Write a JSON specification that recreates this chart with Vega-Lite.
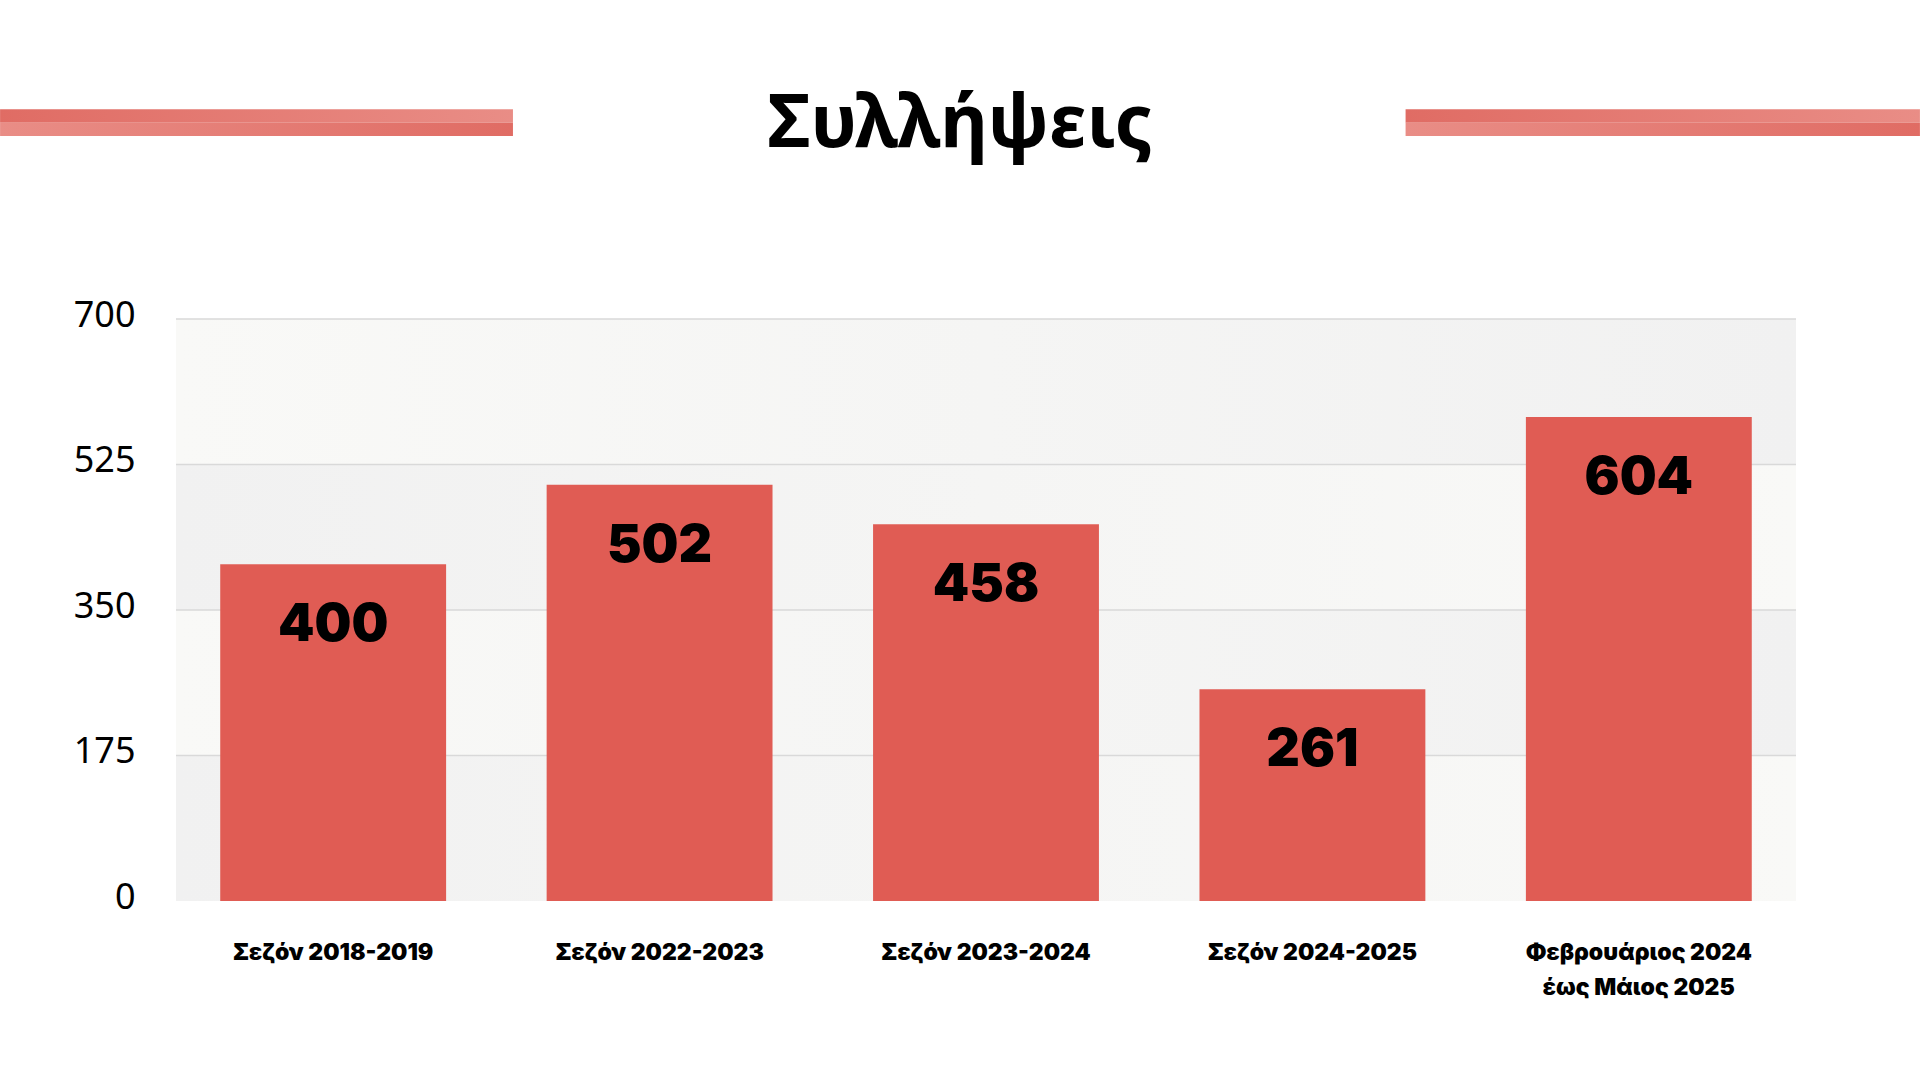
{
  "$schema": "https://vega.github.io/schema/vega-lite/v6.json",
  "width": 1620,
  "height": 582,
  "autosize": {"type": "none"},
  "padding": {"left": 176, "top": 319, "right": 124, "bottom": 179},
  "background": "#ffffff",
  "config": {
    "view": {"stroke": null},
    "axis": {"title": null}
  },
  "datasets": {
    "arrests": [
      {"period": "Σεζόν 2018-2019", "axis_value": 405, "label": 400},
      {"period": "Σεζόν 2022-2023", "axis_value": 500.7, "label": 502},
      {"period": "Σεζόν 2023-2024", "axis_value": 453, "label": 458},
      {"period": "Σεζόν 2024-2025", "axis_value": 254.6, "label": 261},
      {"period": "Φεβρουάριος 2024\nέως Μάιος 2025", "axis_value": 582, "label": 604}
    ],
    "bands": [
      {"from": 0, "to": 175, "shade": "b"},
      {"from": 175, "to": 350, "shade": "a"},
      {"from": 350, "to": 525, "shade": "b"},
      {"from": 525, "to": 700, "shade": "a"}
    ],
    "stripes": [
      {"side": "left", "row": "upper", "start": -0.1086, "end": 0.208, "low": 936.1, "high": 952.2},
      {"side": "left", "row": "lower", "start": -0.1086, "end": 0.208, "low": 920.1, "high": 936.1},
      {"side": "right", "row": "upper", "start": 0.759, "end": 1.0765, "low": 936.1, "high": 952.2},
      {"side": "right", "row": "lower", "start": 0.759, "end": 1.0765, "low": 920.1, "high": 936.1}
    ],
    "heading": [
      {"text": "Συλλήψεις", "pos": 0.484, "level": 907}
    ]
  },
  "resolve": {"scale": {"x": "independent"}},
  "layer": [
    {
      "data": {"name": "bands"},
      "transform": [{"filter": "datum.shade == 'a'"}],
      "mark": {
        "type": "rect",
        "color": {"gradient": "linear", "x1": 0, "y1": 0, "x2": 1, "y2": 0,
          "stops": [{"offset": 0, "color": "#f9f9f7"}, {"offset": 1, "color": "#f1f1f1"}]}
      },
      "encoding": {
        "y": {"field": "from", "type": "quantitative", "scale": {"domain": [0, 700], "nice": false}, "axis": {"values": [0, 175, 350, 525, 700], "grid": false, "domain": false, "ticks": false, "tickSize": 0, "labelFont": "Noto Sans", "labelFontSize": 36, "labelColor": "#000000", "labelPadding": 41, "labelOffset": -4}},
        "y2": {"field": "to"}
      }
    },
    {
      "data": {"name": "bands"},
      "transform": [{"filter": "datum.shade == 'b'"}],
      "mark": {
        "type": "rect",
        "color": {"gradient": "linear", "x1": 0, "y1": 0, "x2": 1, "y2": 0,
          "stops": [{"offset": 0, "color": "#f1f1f1"}, {"offset": 1, "color": "#f9f9f7"}]}
      },
      "encoding": {
        "y": {"field": "from", "type": "quantitative", "scale": {"domain": [0, 700], "nice": false}, "axis": {"values": [0, 175, 350, 525, 700], "grid": false, "domain": false, "ticks": false, "tickSize": 0, "labelFont": "Noto Sans", "labelFontSize": 36, "labelColor": "#000000", "labelPadding": 41, "labelOffset": -4}},
        "y2": {"field": "to"}
      }
    },
    {
      "data": {"name": "bands"},
      "mark": {"type": "rule", "color": "#d9d9d9", "strokeWidth": 1.5},
      "encoding": {
        "y": {"field": "to", "type": "quantitative", "scale": {"domain": [0, 700], "nice": false}, "axis": {"values": [0, 175, 350, 525, 700], "grid": false, "domain": false, "ticks": false, "tickSize": 0, "labelFont": "Noto Sans", "labelFontSize": 36, "labelColor": "#000000", "labelPadding": 41, "labelOffset": -4}}
      }
    },
    {
      "data": {"name": "arrests"},
      "encoding": {
        "x": {"field": "period", "type": "nominal", "sort": null,
          "scale": {"paddingInner": 0.308, "paddingOuter": 0.1355},
          "axis": {"domain": false, "ticks": false, "tickSize": 0, "labelAngle": 0, "labelFont": "Inter", "labelFontWeight": 900, "labelFontSize": 23, "labelColor": "#000000", "labelPadding": 40, "labelLineHeight": 35, "labelLimit": 0, "labelExpr": "split(datum.label, '\\n')"}},
        "y": {"field": "axis_value", "type": "quantitative", "scale": {"domain": [0, 700], "nice": false}, "axis": {"values": [0, 175, 350, 525, 700], "grid": false, "domain": false, "ticks": false, "tickSize": 0, "labelFont": "Noto Sans", "labelFontSize": 36, "labelColor": "#000000", "labelPadding": 41, "labelOffset": -4}}
      },
      "layer": [
        {"mark": {"type": "bar", "color": "#e05c54"}},
        {
          "mark": {"type": "text", "font": "Inter", "fontWeight": 900, "fontSize": 52, "color": "#000000", "baseline": "middle", "align": "center", "dy": 61},
          "encoding": {"text": {"field": "label", "type": "quantitative"}}
        }
      ]
    },
    {
      "data": {"name": "stripes"},
      "transform": [{"filter": "datum.row == 'upper'"}],
      "mark": {
        "type": "rect", "clip": false,
        "color": {"gradient": "linear", "x1": 0, "y1": 0, "x2": 1, "y2": 0,
          "stops": [{"offset": 0, "color": "#e06c64"}, {"offset": 1, "color": "#e98d86"}]}
      },
      "encoding": {
        "x": {"field": "start", "type": "quantitative", "scale": {"domain": [0, 1], "nice": false, "zero": false}, "axis": null},
        "x2": {"field": "end"},
        "y": {"field": "low", "type": "quantitative", "scale": {"domain": [0, 700], "nice": false}, "axis": {"values": [0, 175, 350, 525, 700], "grid": false, "domain": false, "ticks": false, "tickSize": 0, "labelFont": "Noto Sans", "labelFontSize": 36, "labelColor": "#000000", "labelPadding": 41, "labelOffset": -4}},
        "y2": {"field": "high"}
      }
    },
    {
      "data": {"name": "stripes"},
      "transform": [{"filter": "datum.row == 'lower'"}],
      "mark": {
        "type": "rect", "clip": false,
        "color": {"gradient": "linear", "x1": 0, "y1": 0, "x2": 1, "y2": 0,
          "stops": [{"offset": 0, "color": "#e98d86"}, {"offset": 1, "color": "#e06c64"}]}
      },
      "encoding": {
        "x": {"field": "start", "type": "quantitative", "scale": {"domain": [0, 1], "nice": false, "zero": false}, "axis": null},
        "x2": {"field": "end"},
        "y": {"field": "low", "type": "quantitative", "scale": {"domain": [0, 700], "nice": false}, "axis": {"values": [0, 175, 350, 525, 700], "grid": false, "domain": false, "ticks": false, "tickSize": 0, "labelFont": "Noto Sans", "labelFontSize": 36, "labelColor": "#000000", "labelPadding": 41, "labelOffset": -4}},
        "y2": {"field": "high"}
      }
    },
    {
      "data": {"name": "heading"},
      "mark": {"type": "text", "clip": false, "font": "Noto Sans", "fontWeight": "bold", "fontSize": 74, "color": "#000000", "align": "center", "baseline": "alphabetic"},
      "encoding": {
        "x": {"field": "pos", "type": "quantitative", "scale": {"domain": [0, 1], "nice": false, "zero": false}, "axis": null},
        "y": {"field": "level", "type": "quantitative", "scale": {"domain": [0, 700], "nice": false}, "axis": {"values": [0, 175, 350, 525, 700], "grid": false, "domain": false, "ticks": false, "tickSize": 0, "labelFont": "Noto Sans", "labelFontSize": 36, "labelColor": "#000000", "labelPadding": 41, "labelOffset": -4}},
        "text": {"field": "text", "type": "nominal"}
      }
    }
  ]
}
